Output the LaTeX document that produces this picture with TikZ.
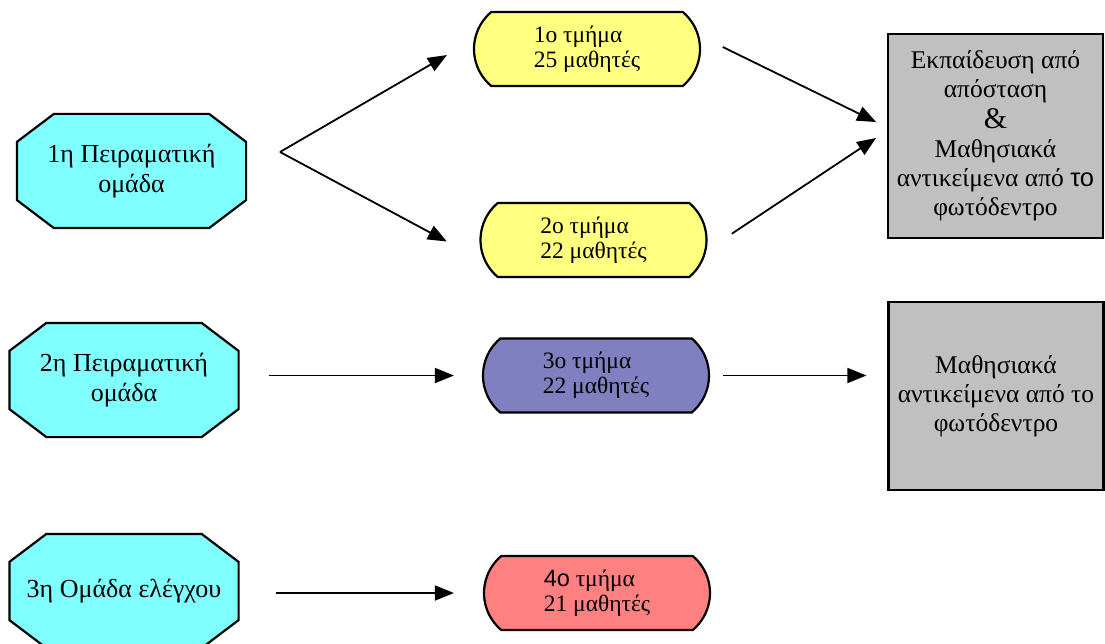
\documentclass[tikz,border=0pt]{standalone}
\usepackage{fontspec}
\setmainfont{Liberation Serif}
\newfontfamily\arialgr{Liberation Sans}
\usetikzlibrary{shapes.misc,arrows.meta,backgrounds}
\definecolor{omadacyan}{HTML}{80FFFF}
\definecolor{tmimayellow}{HTML}{FFFF80}
\definecolor{tmimapurple}{HTML}{8080C0}
\definecolor{tmimared}{HTML}{FF8080}
\definecolor{ylikogray}{HTML}{C0C0C0}
\begin{document}
\begin{tikzpicture}[x=1pt,y=-1pt,line width=2.2pt,
  omada/.style={rectangle,minimum width=227pt,minimum height=112pt,inner sep=0pt,align=center,font=\fontsize{26}{30}\selectfont},
  omadaline/.style={draw=black,fill=omadacyan,line width=2.2pt,line join=miter},
  tmima/.style={rounded rectangle,rounded rectangle arc length=100,draw,minimum width=226pt,minimum height=74pt,inner sep=0pt,align=left,font=\fontsize{23.5}{25}\selectfont},
  yliko/.style={rectangle,draw,fill=ylikogray,minimum width=215pt,inner sep=0pt,align=center,font=\fontsize{25.5}{29}\selectfont},
  belos/.style={-{Triangle[length=19pt,width=15pt]},line width=1.8pt}]
\useasboundingbox (0,0) rectangle (1105,644);
% groups
\node[omada] (g1) at (131.5,171) {1η Πειραματική\\ομάδα};
\node[omada] (g2) at (124,380) {2η Πειραματική\\ομάδα};
\node[omada] (g3) at (124,591) {3η Ομάδα ελέγχου};
\begin{scope}[on background layer]
\foreach \g in {g1,g2,g3}
  \path[omadaline] ([xshift=37pt]\g.north west) -- ([xshift=-37pt]\g.north east) -- ([yshift=-28pt]\g.north east) -- ([yshift=28pt]\g.south east) -- ([xshift=-37pt]\g.south east) -- ([xshift=37pt]\g.south west) -- ([yshift=28pt]\g.south west) -- ([yshift=-28pt]\g.north west) -- cycle;
\end{scope}
% classes
\node[tmima,fill=tmimayellow] (t1) at (587,49) {1ο τμήμα\\25 μαθητές};
\node[tmima,fill=tmimayellow] (t2) at (593.5,240) {2ο τμήμα\\22 μαθητές};
\node[tmima,fill=tmimapurple] (t3) at (596,375.5) {3ο τμήμα\\22 μαθητές};
\node[tmima,fill=tmimared] (t4) at (597,593) {{\arialgr 4ο} τμήμα\\21 μαθητές};
% materials
\node[yliko,minimum height=204pt] (b1) at (995.5,136) {Εκπαίδευση από\\απόσταση\\[2pt]{\fontsize{30}{30}\selectfont\&}\\Μαθησιακά\\αντικείμενα από {\arialgr το}\\φωτόδεντρο};
\node[yliko,minimum height=188pt] (b2) at (996,396) {Μαθησιακά\\αντικείμενα από το\\φωτόδεντρο};
% arrows
\coordinate (fork) at (280,152);
\draw[belos,shorten >=30pt] (fork) -- ([yshift=9pt]t1.west);
\draw[belos,shorten >=37pt] (fork) -- ([yshift=-19pt]t2.west);
\draw[belos,shorten <=24pt,shorten >=12pt] ([yshift=12.6pt]t1.east) -- ([yshift=8.7pt]b1.west);
\draw[belos,shorten <=29pt,shorten >=13pt] ([yshift=-9.8pt]t2.east) -- ([yshift=5.2pt]b1.west);
\draw[belos,shorten <=30pt,shorten >=28pt] (g2.east |- t3.west) -- (t3.west);
\draw[belos,shorten <=13pt,shorten >=21pt] (t3.east) -- (t3.east -| b2.west);
\draw[belos,shorten <=37pt,shorten >=29pt] (g3.east |- t4.west) -- (t4.west);
\end{tikzpicture}
\end{document}
